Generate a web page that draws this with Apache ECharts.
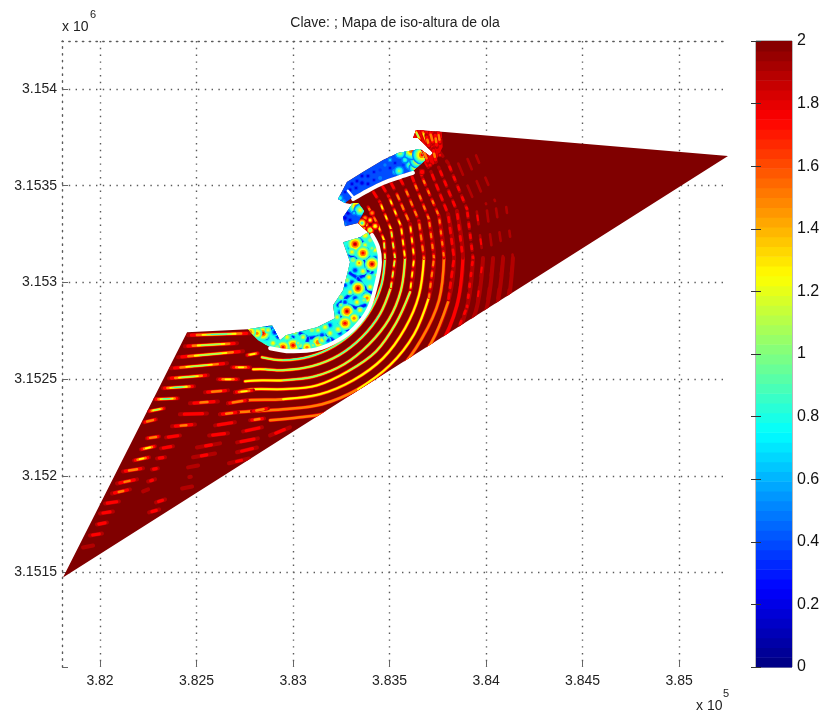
<!DOCTYPE html>
<html><head><meta charset="utf-8">
<style>html,body{margin:0;padding:0;background:#fff}#main{width:825px;height:717px;filter:blur(0.45px)}</style>
<script src="https://cdn.jsdelivr.net/npm/echarts@6/dist/echarts.min.js"></script>
</head><body><div id="main"></div>
<script>
// ---- axes (metres) ----
const xMin = 381803, xMax = 385253, yMin = 3151012, yMax = 3154248;
const xTicks = [382000, 382500, 383000, 383500, 384000, 384500, 385000];
const yTicks = [3151500, 3152000, 3152500, 3153000, 3153500, 3154000];
const barTicks = [0, 0.2, 0.4, 0.6, 0.8, 1, 1.2, 1.4, 1.6, 1.8, 2];
const titleText = 'Clave: ; Mapa de iso-altura de ola';
// all field geometry below: metres east of 380000 / north of 3150000
const eastOrigin = 380000, northOrigin = 3150000;

const domainOutline = [[1808,1475],[2451,2743],[2767,2758],[2891,2779],[2932,2701],[2963,2727],[3124,2768],[3217,2815],[3207,2882],[3259,2960],[3285,3063],[3295,3105],[3259,3208],[3347,3234],[3388,3260],[3336,3307],[3269,3291],[3259,3338],[3311,3410],[3295,3405],[3269,3410],[3233,3431],[3279,3519],[3362,3571],[3466,3633],[3544,3669],[3658,3690],[3709,3654],[3725,3669],[3647,3747],[3621,3747],[3637,3788],[3787,3778],[5253,3654]];
const harborOutline = [[2767,2758],[2891,2779],[2932,2701],[2963,2727],[3124,2768],[3217,2815],[3207,2882],[3259,2960],[3285,3063],[3295,3105],[3259,3208],[3347,3234],[3388,3260],[3440,3183],[3450,3105],[3435,3007],[3393,2867],[3321,2768],[3233,2701],[3124,2655],[2984,2644],[2891,2660],[2818,2701]];
const upperBasinOutline = [[3233,3431],[3279,3519],[3362,3571],[3466,3633],[3544,3669],[3658,3690],[3684,3633],[3621,3576],[3554,3555],[3466,3524],[3383,3483],[3311,3441],[3269,3410]];
const midBasinOutline = [[3259,3338],[3311,3410],[3336,3410],[3368,3369],[3336,3307],[3269,3291]];
const headlandPatch = [[3637,3788],[3770,3778],[3775,3700],[3730,3610],[3684,3607],[3658,3690],[3709,3654],[3725,3669],[3647,3747],[3621,3747]];
const harborWall = [[2881,2660],[2984,2644],[3124,2655],[3233,2701],[3321,2768],[3393,2867],[3435,3007],[3450,3105],[3440,3183],[3409,3245]];
const upperWall = [[3311,3431],[3383,3472],[3466,3514],[3554,3545],[3621,3566]];
const upperSlit = [[3284,3474],[3312,3440]];
const headlandValue = 1.78, harborValue = 0.8, upperBasinValue = 0.4, midBasinValue = 0.4, openSeaValue = 2;

// wave crests: [east, north, height]
const crestR1 = [[3471,3219,1.8],[3476,3126,.85],[3458,2989,.82],[3404,2862,.8],[3321,2753,.82],[3212,2670,.85],[3083,2616,.85],[2948,2598,.85],[2839,2613,1]];
const crestR2 = [[3507,3276,1.8],[3528,3126,1.8],[3507,2975,.87],[3450,2836,.85],[3357,2717,.85],[3238,2624,.85],[3098,2567,.87],[2948,2546,.9],[2855,2551,1],[2793,2551,1.1]];
const crestR3 = [[3559,3291,1.8],[3580,3126,1],[3559,2960,.95],[3497,2810,.9],[3393,2680,.92],[3264,2577,.95],[3114,2515,.97],[2948,2494,1],[2839,2494,1.1],[2751,2489,1.15]];
const crestR4 = [[3606,3302,1.8],[3627,3126,1.8],[3606,2950,1.05],[3533,2789,1],[3430,2644,1.02],[3285,2541,1.05],[3124,2468,1.07],[2948,2448,1.1],[2803,2448,1.2],[2699,2432,1.25]];
const crestR5 = [[3652,3317,1.8],[3678,3126,1.2],[3652,2934,1.15],[3580,2763,1.1],[3466,2608,1.12],[3311,2494,1.15],[3140,2422,1.2],[2948,2396,1.25],[2767,2391,1.3],[2663,2375,1.35]];
const crestR6 = [[3704,3327,1.8],[3730,3126,1.8],[3704,2924,1.25],[3627,2732,1.2],[3502,2572,1.22],[3336,2448,1.25],[3150,2370,1.3],[2948,2344,1.35],[2710,2329,1.4],[2622,2318,1.45]];
const crestR7 = [[3756,3343,1.85],[3782,3126,1.4],[3756,2908,1.35],[3668,2712,1.3],[3539,2536,1.3],[3368,2406,1.3],[3166,2323,1.4],[3036,2303,1.45],[2881,2287,1.5]];
const crestR8 = [[3803,3353,1.85],[3834,3126,1.85],[3803,2898,1.45],[3715,2686,1.4],[3575,2499,1.42],[3388,2360,1.45]];
const crestR9 = [[3849,3369,1.85],[3880,3126,1.6],[3849,2882,1.55],[3756,2660,1.5],[3606,2468,1.52],[3414,2318,1.55]];
const crestR10 = [[3932,3126,1.88],[3901,2872,1.85],[3803,2634,1.62],[3642,2432,1.62],[3440,2272,1.65]];
const crestR11 = [[3984,3126,1.88],[3948,2856,1.85],[3844,2608,1.68],[3678,2396,1.68],[3466,2230,1.7]];
const crestR12 = [[4036,3126,1.88],[3998,2846,1.86],[3891,2582,1.72],[3715,2360,1.72],[3492,2184,1.75]];
const crestR13 = [[4088,3126,1.9],[4046,2830,1.88],[3932,2556,1.76],[3756,2318,1.78]];
const crestR14 = [[4139,3126,1.9],[4098,2815,1.88],[3979,2530,1.8],[3792,2282,1.83]];
const lowerCrests = [crestR1,crestR2,crestR3,crestR4,crestR5,crestR6,crestR7,crestR8,crestR9,crestR10,crestR11,crestR12,crestR13,crestR14];

const crestU1 = [[3383,3400,1.6],[3435,3307,1.3],[3471,3219,1],[3476,3126,.85]];
const crestU2 = [[3409,3478,1.7],[3450,3415,1.35],[3507,3276,1.1],[3528,3126,.9],[3507,2975,.88]];
const crestU3 = [[3456,3509,1.75],[3497,3441,1.35],[3559,3291,1.15],[3580,3126,1]];
const crestU4 = [[3502,3524,1.8],[3533,3467,1.4],[3606,3302,1.2],[3627,3126,1.1],[3606,2950,1.06]];
const crestU5 = [[3549,3545,1.8],[3580,3488,1.45],[3652,3317,1.3],[3678,3126,1.25]];
const crestU6 = [[3611,3560,1.8],[3627,3519,1.5],[3704,3327,1.4],[3730,3126,1.4],[3704,2924,1.28]];
const crestU7 = [[3658,3591,1.85],[3668,3545,1.55],[3756,3343,1.45],[3782,3126,1.5]];
const crestU8 = [[3678,3633,1.85],[3715,3571,1.65],[3803,3353,1.55],[3834,3126,1.6],[3803,2898,1.48]];
const crestU9 = [[3720,3659,1.9],[3756,3591,1.7],[3849,3369,1.62],[3880,3126,1.65]];
const crestU10 = [[3751,3685,1.9],[3803,3617,1.75],[3901,3379,1.7],[3932,3126,1.72],[3901,2872,1.72],[3803,2634,1.7]];
const upperCrests = [crestU1,crestU2,crestU3,crestU4,crestU5,crestU6,crestU7,crestU8,crestU9,crestU10];

const crestO1 = [[3844,3643,1.8],[3948,3395,1.75],[3984,3126,1.75],[3948,2856,1.75],[3844,2608,1.72]];
const crestO2 = [[3891,3669,1.82],[4000,3405,1.8],[4036,3126,1.82],[3998,2846,1.8],[3891,2582,1.75]];
const crestO3 = [[3932,3695,1.88],[4046,3421,1.86],[4088,3126,1.86],[4046,2830,1.84],[3932,2556,1.8]];
const crestO4 = [[3979,3721,1.92],[4098,3436,1.9],[4139,3126,1.88],[4098,2815,1.86],[3979,2530,1.82]];
const crestO5 = [[4025,3747,1.95],[4150,3446,1.95],[4191,3126,1.92],[4155,2805,1.9],[4025,2504,1.88]];
const crestO6 = [[4072,3773,1.96],[4196,3462,1.95],[4243,3126,1.95],[4201,2789,1.93],[4072,2479,1.9]];
const outerCrests = [crestO1,crestO2,crestO3,crestO4,crestO5,crestO6];

// short crest fragments west of the harbour: [e1, n1, e2, n2, height]
const westFragments1 = [[2456,2727,2777,2737,.85],[2440,2670,2710,2686,.9],[2404,2613,2741,2644,.95],[2368,2556,2658,2582,1],[2357,2504,2559,2520,.95],[2326,2453,2487,2463,.85],[2285,2396,2404,2401,.85],[2254,2334,2332,2349,1],[2228,2277,2290,2292,1.3],[2243,2194,2306,2204,1.3],[2212,2137,2285,2153,1.2],[2176,2080,2254,2096,1.25],[2119,2023,2223,2039,1.4],[2088,1961,2192,1982,1.5],[2062,1909,2155,1930,1.5],[2026,1857,2098,1868,1.55],[2000,1806,2067,1816,1.65],[1984,1749,2036,1759,1.6],[1948,1692,2010,1702,1.65],[1912,1630,1964,1640,1.8]];
const westFragments2 = [[2684,2561,2777,2561,1.25],[2611,2499,2715,2499,1.25],[2544,2432,2663,2442,1.4],[2466,2375,2611,2385,1.5],[2414,2318,2554,2323,1.55],[2373,2256,2492,2266,1.5],[2342,2199,2414,2209,1.55],[2316,2142,2378,2153,1.6],[2295,2090,2337,2096,1.7],[2269,2033,2300,2039,1.7],[2249,1971,2285,1982,1.75],[2223,1920,2249,1930,1.85],[2290,1863,2337,1878,1.7],[2254,1811,2306,1826,1.7],[2761,2624,2818,2634,1.1]];
const westFragments3 = [[2699,2432,2793,2442,1.2],[2663,2375,2761,2391,1.3],[2622,2318,2715,2329,1.45],[2596,2261,2699,2277,1.55],[2565,2209,2663,2220,1.6],[2502,2147,2622,2168,1.75],[2482,2096,2596,2116,1.75],[2456,2044,2508,2054,1.85],[2451,1992,2482,1997,1.9],[2425,1935,2477,1945,1.8]];
const westFragments4 = [[2787,2334,2870,2349,1.35],[2777,2287,2850,2297,1.45],[2741,2230,2839,2251,1.55],[2710,2173,2818,2194,1.6],[2710,2122,2813,2147,1.65],[2668,2065,2772,2090,1.75],[2881,2209,2984,2251,1.7]];
const headlandFragments = [[3632,3788,3658,3736,.9],[3668,3788,3694,3721,1.15],[3709,3778,3725,3721,1.3],[3751,3778,3761,3721,1.4],[3668,3700,3700,3620,1.35],[3725,3690,3740,3625,1.5],[3690,3760,3705,3700,1.5],[3735,3770,3745,3700,1.5]];

// local extrema: [east, north, height]
const harborLowSpots = [[3295,3183,.3],[3388,3126,.25],[3279,3105,.3],[3321,3063,.25],[3425,3126,.3],[3388,3063,.25],[3269,2986,.3],[3305,3001,.25],[3373,2934,.25],[3269,2898,.3],[3321,2919,.25],[3243,2846,.3],[3285,2805,.25],[3191,2779,.3],[3150,2727,.25],[3046,2763,.3],[2984,2701,.25],[3036,2660,.3],[2860,2717,.2],[2906,2743,.2],[3243,2737,.3],[3181,2701,.3]];
const harborSpots = [[3321,3198,1.95],[3373,3193,1.25],[3362,3152,1.85],[3305,3157,1.3],[3342,3100,1.5],[3409,3095,1.9],[3311,3115,1.2],[3362,3058,1.3],[3393,3027,1.3],[3336,2970,1.9],[3399,2976,1.3],[3383,2919,1.6],[3295,2950,1.25],[3331,2898,1.3],[3279,2851,1.9],[3347,2857,1.3],[3228,2820,1.25],[3316,2815,1.6],[3269,2789,1.85],[3233,2758,1.3],[3166,2768,1.3],[3191,2737,1.3],[3129,2753,1.25],[3098,2753,1.2],[3129,2691,1.7],[3072,2665,1.6],[3052,2717,1.25],[3010,2743,1.25],[3000,2675,1.85],[2969,2717,1.3],[2948,2665,1.8],[2896,2686,1.3],[2844,2737,1.85],[2813,2737,1.6],[2870,2753,1.25],[3269,3089,1.2],[3279,3012,1.2],[3248,2924,1.2],[3425,3167,1.3],[3373,3245,1.4],[3399,3219,1.2],[3036,2675,1.2],[3150,2701,1.3],[2917,2665,1.2],[2777,2743,1.7],[3409,3177,1.1],[3279,3063,1.1],[3430,3038,1.1],[3248,2882,1.1],[3367,2908,1.1],[3166,2711,1.1],[3026,2686,1.1],[2948,2727,1.1],[3103,2675,1.1],[2855,2675,1.1]];
const harborNodalLines = [
  [[3295,3048],[3336,3022],[3373,3038],[3409,3053]],
  [[3336,3022],[3357,2986],[3311,2950],[3279,2924],[3233,2882]],
  [[3357,2986],[3409,2944]],
  [[3295,3141],[3331,3115],[3373,3115],[3383,3074]],
  [[3279,2882],[3331,2867],[3373,2882]],
  [[3228,2820],[3295,2831],[3347,2815]],
  [[3243,2789],[3295,2743]],
  [[3036,2737],[3077,2712],[3124,2717],[3166,2727],[3207,2701]],
  [[3077,2712],[3072,2686]],
  [[2891,2763],[2922,2717],[2948,2753]],
  [[2829,2753],[2865,2768],[2896,2753]],
  [[3000,2717],[2984,2675]],
  [[3331,3234],[3357,3208],[3383,3167]]
];
const upperBasinSpots = [[3305,3509,.15],[3331,3524,.15],[3295,3478,.15],[3326,3488,.15],[3357,3514,.1],[3357,3550,.15],[3388,3550,.15],[3388,3509,.15],[3419,3571,.2],[3419,3529,.2],[3451,3581,.25],[3269,3467,.2],[3259,3415,.8],[3243,3436,.85],[3451,3540,.65],[3528,3571,.8],[3502,3633,.7],[3544,3591,.6],[3476,3607,.6],[3549,3576,1.1],[3595,3659,1.25],[3606,3607,1.1],[3580,3633,.9],[3632,3674,1.6],[3632,3591,1.3],[3647,3633,1.65],[3616,3685,1.85],[3554,3669,1.2],[3502,3591,.2],[3528,3617,.2],[3570,3607,.3],[3668,3659,1.8]];
const midBasinSpots = [[3269,3333,.1],[3285,3359,.1],[3295,3322,.15],[3305,3390,1.2],[3326,3395,1.6],[3347,3374,1.3],[3316,3359,.7],[3269,3302,.6]];
const fringeSpots = [[3373,3297,1],[3399,3271,.9],[3362,3281,1.1],[3399,3322,1.2],[3425,3291,1.1],[3373,3333,1.3],[3347,3359,1.5],[3409,3359,1.3],[3357,3307,.8]];
const headlandSpots = [[3720,3695,1.6],[3761,3736,1.65],[3761,3659,1.7],[3709,3607,1.65],[3668,3571,1.55]];

// ---- jet colour scale ----
const clamp01 = v => Math.max(0, Math.min(1, v));
function jet(v) {
  const t = v / 2;
  const r = clamp01(Math.min(4*t-1.5, -4*t+4.5)), g = clamp01(Math.min(4*t-.5, -4*t+3.5)), b = clamp01(Math.min(4*t+.5, -4*t+2.5));
  return 'rgb(' + [r,g,b].map(c => Math.round(c*255)).join(',') + ')';
}
const CREST_LEVELS = [1.9, 1.75, 1.5, 1.25, 1.05, .85];
const CREST_WIDTHS = [4, 3.2, 2.5, 1.8, 1.3, .9];
const SPOT_LEVELS = [.2, .35, .5, .7, .85, 1.05, 1.25, 1.5, 1.75, 1.9];

let toPx;
const bind = api => { toPx = p => api.coord([eastOrigin + p[0], northOrigin + p[1]]); };
const poly = (outline, value) => ({type:'polygon', shape:{points:outline.map(toPx)}, style:{fill:jet(value), stroke:null}});
const line = (points, color, width, extra) => ({type:'polyline', shape:Object.assign({points}, extra && extra.shape), style:Object.assign({stroke:color, lineWidth:width, fill:null, lineCap:'round', lineJoin:'round'}, extra && extra.style)});
const clipTo = (outline, children) => ({type:'group', clipPath:{type:'polygon', shape:{points:outline.map(toPx)}}, children});

function drawSolidCrest(c) {
  const out = [], pts = c.map(toPx);
  CREST_LEVELS.forEach((L, k) => {
    let run = [];
    const flush = () => { if (run.length > 1) out.push(line(run, jet(L), CREST_WIDTHS[k], {shape:{smooth:.35}})); run = []; };
    c.forEach((p, i) => { if (p[2] <= L + 1e-6) run.push(pts[i]); else flush(); });
    flush();
  });
  return clipTo(domainOutline, out);
}
function dashedCrest(c, period, scale) {
  const out = [], pts = c.map(toPx);
  for (let i = 0; i + 1 < c.length; i++) {
    const v = (c[i][2] + c[i+1][2]) / 2, seg = [pts[i], pts[i+1]];
    CREST_LEVELS.forEach((L, k) => {
      if (L < v) return;
      const d = period * (.2 + .55 * (L - v) / (2 - v));
      out.push(line(seg, jet(L), CREST_WIDTHS[k] * scale, {style:{lineDash:[d, period - d], lineDashOffset:-(period - d) / 2}}));
    });
  }
  return clipTo(domainOutline, out);
}
function drawFragment(s) {
  const a = toPx([s[0], s[1]]), b = toPx([s[2], s[3]]), v = s[4], out = [];
  CREST_LEVELS.forEach((L, k) => {
    if (L < v) return;
    const f = .25 + .75 * Math.min(1, (L - v) / (1.9 - v || 1));
    const m = [(a[0]+b[0])/2, (a[1]+b[1])/2], h = [(b[0]-a[0])/2*f, (b[1]-a[1])/2*f];
    out.push(line([[m[0]-h[0], m[1]-h[1]], [m[0]+h[0], m[1]+h[1]]], jet(L), CREST_WIDTHS[k]));
  });
  return clipTo(domainOutline, out);
}
function spot(p, base, gain) {
  const c = toPx(p), v = p[2], out = [];
  const levels = v > base ? SPOT_LEVELS.filter(L => L > base && L <= v) : SPOT_LEVELS.filter(L => L < base && L >= v).reverse();
  levels.forEach(L => out.push({type:'circle', shape:{cx:c[0], cy:c[1], r:Math.abs(v - L) * gain + 1}, style:{fill:jet(L), stroke:null}}));
  return out;
}
const field = (name, z, rows, draw) => ({
  type:'custom', name, coordinateSystem:'cartesian2d', xAxisIndex:0, yAxisIndex:0, silent:true, clip:false, z,
  data: rows.map((r, i) => [i, 0]),
  renderItem: (p, api) => { bind(api); return draw(rows[p.dataIndex]); }
});
const spotField = (name, z, rows, base, gain, outline) => field(name, z, rows, p => clipTo(outline, spot(p, base, gain)));

const colorBands = Array.from({length:64}, (_, i) => i);
const dotted = {color:'#5a5a5a', width:1.4, type:[1.4, 5.4]};
const decimals = (v, scale) => String(parseFloat((v / scale).toFixed(5)));
const textFont = 'Liberation Sans';

const option = {
  animation:false,
  backgroundColor:'#fff',
  title:{text:titleText, left:390, top:11, textAlign:'center', textStyle:{fontFamily:textFont, fontSize:14, fontWeight:'normal', color:'#222'}},
  grid:[{left:62, top:41, width:666, height:626}, {left:756, top:41, width:36, height:626, show:true, borderColor:'#777', borderWidth:1, backgroundColor:'transparent'}],
  xAxis:[
    {type:'value', gridIndex:0, position:'bottom', min:xMin, max:xMax,
      axisLine:{show:false}, axisTick:{show:true, inside:true, length:6, customValues:xTicks, lineStyle:{color:'#666'}},
      axisLabel:{customValues:xTicks, formatter:v => decimals(v, 1e5), margin:7, fontFamily:textFont, fontSize:14, color:'#222'},
      splitLine:{show:true, lineStyle:dotted}},
    {type:'value', gridIndex:0, position:'top', min:xMin, max:xMax,
      axisLine:{show:true, onZero:false, lineStyle:dotted}, axisTick:{show:false}, axisLabel:{show:false}, splitLine:{show:false}},
    {type:'value', gridIndex:1, min:0, max:1, show:false}
  ],
  yAxis:[
    {type:'value', gridIndex:0, position:'left', min:yMin, max:yMax,
      axisLine:{show:true, onZero:false, lineStyle:dotted}, axisTick:{show:true, inside:true, length:6, customValues:[yMin].concat(yTicks), lineStyle:{color:'#666'}},
      axisLabel:{customValues:yTicks, formatter:v => decimals(v, 1e6), margin:5, fontFamily:textFont, fontSize:14, color:'#222'},
      splitLine:{show:true, showMinLine:false, lineStyle:dotted}},
    {type:'value', gridIndex:1, position:'right', min:0, max:2, z:5,
      axisLine:{show:false}, axisTick:{show:true, inside:true, length:5, customValues:barTicks, lineStyle:{color:'#333'}},
      axisLabel:{customValues:barTicks, formatter:v => String(v), margin:5, fontFamily:textFont, fontSize:16, color:'#111'},
      splitLine:{show:false}},
    {type:'value', gridIndex:1, position:'left', min:0, max:2, z:5,
      axisLine:{show:false}, axisTick:{show:true, inside:true, length:5, customValues:barTicks, lineStyle:{color:'#333'}},
      axisLabel:{show:false}, splitLine:{show:false}}
  ],
  graphic:[
    {type:'text', left:62, top:20, style:{text:'x 10', font:'14px "Liberation Sans"', fill:'#222'}},
    {type:'text', left:90, top:9, style:{text:'6', font:'11px "Liberation Sans"', fill:'#222'}},
    {type:'text', left:696, top:699, style:{text:'x 10', font:'14px "Liberation Sans"', fill:'#222'}},
    {type:'text', left:723, top:688, style:{text:'5', font:'11px "Liberation Sans"', fill:'#222'}}
  ],
  series:[
    field('domain', 2, [domainOutline], o => poly(o, openSeaValue)),
    field('lower crests', 3, lowerCrests, drawSolidCrest),
    field('upper crests', 4, upperCrests, c => dashedCrest(c, 11, .85)),
    field('outer crests', 4, outerCrests, c => dashedCrest(c, 24, .65)),
    field('west fragments', 5, westFragments1.concat(westFragments2, westFragments3, westFragments4), drawFragment),
    spotField('fringe', 6, fringeSpots, openSeaValue, 3.5, domainOutline),
    field('headland', 7, [headlandPatch], o => poly(o, headlandValue)),
    spotField('headland spots', 7, headlandSpots, openSeaValue, 6, domainOutline),
    field('headland fragments', 8, headlandFragments, drawFragment),
    field('harbor', 9, [harborOutline], o => poly(o, harborValue)),
    field('harbor nodal lines', 10, harborNodalLines, l => clipTo(harborOutline, [line(l.map(toPx), jet(.55), 4.5), line(l.map(toPx), jet(.3), 2.4)])),
    spotField('harbor low spots', 10, harborLowSpots, harborValue, 6, harborOutline),
    spotField('harbor spots', 11, harborSpots, harborValue, 6, harborOutline),
    field('upper basin', 9, [upperBasinOutline], o => poly(o, upperBasinValue)),
    spotField('upper basin spots', 11, upperBasinSpots, upperBasinValue, 7, upperBasinOutline),
    field('mid basin', 9, [midBasinOutline], o => poly(o, midBasinValue)),
    spotField('mid basin spots', 11, midBasinSpots, midBasinValue, 7, midBasinOutline),
    field('walls', 12, [harborWall, upperWall], w => line(w.map(toPx), '#fff', 4, {shape:{smooth:.3}})),
    field('slit', 12, [upperSlit], w => line(w.map(toPx), '#fff', 2.4)),
    {type:'custom', name:'colour bar', coordinateSystem:'cartesian2d', xAxisIndex:2, yAxisIndex:1, silent:true, z:2,
      data:colorBands.map(i => [i, 0]),
      renderItem:(p, api) => {
        const i = p.dataIndex, lo = api.coord([0, i / 32]), hi = api.coord([1, (i + 1) / 32]);
        return {type:'rect', shape:{x:lo[0], y:hi[1], width:hi[0]-lo[0], height:lo[1]-hi[1]+.6}, style:{fill:jet((i + .5) / 32), stroke:null}};
      }}
  ]
};
const chart = echarts.init(document.getElementById('main'), null, {renderer:'canvas'});
chart.setOption(option);
</script></body></html>
